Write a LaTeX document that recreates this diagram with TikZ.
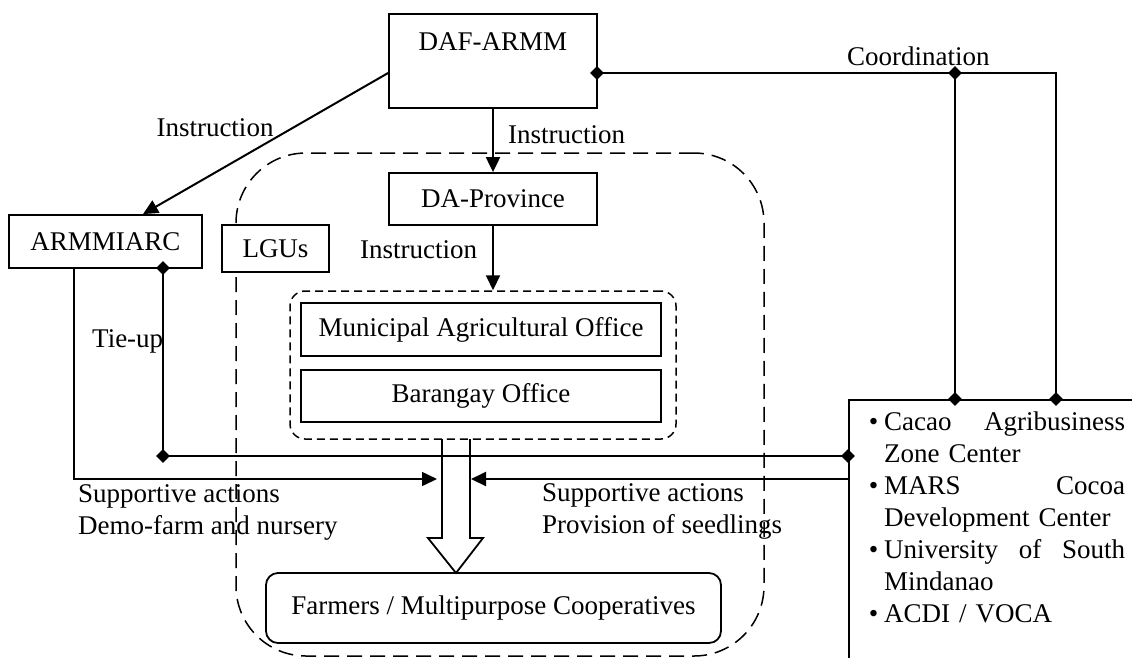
\documentclass[tikz,border=0pt]{standalone}
\usepackage{fontspec}
\setmainfont{Liberation Serif}
\usetikzlibrary{arrows.meta,shapes.geometric}
\newcommand{\orgitem}{\leavevmode\llap{\textbullet\hspace{6pt}}}
\begin{document}
\begin{tikzpicture}[x=1pt,y=-1pt,
  font=\fontsize{27}{32}\selectfont,
  box/.style={draw, line width=1.8pt, inner sep=0pt},
  conn/.style={line width=2pt},
  arr/.style={conn, -{Triangle[length=15pt,width=14pt]}},
  junction/.style={diamond, fill=black, inner sep=0pt, minimum size=14pt},
  zone/.style={draw, line width=1.5pt, dash pattern=on 15pt off 8pt, rounded corners=70pt, inner sep=0pt},
  group/.style={draw, line width=1.5pt, dash pattern=on 8pt off 5pt, rounded corners=15pt, inner sep=0pt},
  lbl/.style={inner sep=0pt}]

\useasboundingbox (0,0) rectangle (1132,657);

% dashed LGU zone and the municipal group inside it
\node[zone, minimum width=528pt, minimum height=503pt] (zone) at (500,404.5) {};
\node[group, minimum width=386pt, minimum height=148pt] (grp) at (483,365) {};

% offices
\node[box, minimum width=208pt, minimum height=94pt, text height=20pt, text depth=42pt] (daf) at (493,61) {DAF-ARMM};
\node[box, minimum width=208pt, minimum height=52pt] (daprov) at (493,199) {DA-Province};
\node[box, minimum width=193pt, minimum height=53pt] (armm) at (105.5,241.5) {ARMMIARC};
\node[box, fill=white, minimum width=107pt, minimum height=47pt] (lgu) at (275.5,248.5) {LGUs};
\node[box, minimum width=360pt, minimum height=53pt] (mao) at (481,329.5) {Municipal Agricultural Office};
\node[box, minimum width=360pt, minimum height=52pt] (brgy) at (481,396) {Barangay Office};
\node[box, rounded corners=12pt, minimum width=455pt, minimum height=70pt] (farm) at (493.5,608) {Farmers / Multipurpose Cooperatives};

% partner organisations (box runs past the page edge)
\node[box, line width=1.5pt, anchor=north west, minimum width=400pt, minimum height=400pt] (org) at (848,399) {};
\node[lbl, anchor=north west, text width=241pt, align=left] (orglist) at (884,411.6) {%
\orgitem Cacao\hfill Agribusiness\\
Zone Center\\
\orgitem MARS\hfill Cocoa\\
Development Center\\
\orgitem University\hfill of\hfill South\\
Mindanao\\
\orgitem ACDI / VOCA};

% instruction lines
\draw[arr] (daf) -- (daprov);
\draw[arr] ([yshift=-12pt]daf.west) -- ([xshift=37.5pt]armm.north);
\draw[arr] (daprov) -- (daprov |- grp.north);

% coordination
\node[junction] (dA) at (597,73) {};
\node[junction] (dB) at (955,73) {};
\node[junction] (dC) at (955,399) {};
\node[junction] (dD) at (1056,399) {};
\coordinate (cc) at (1056,73);
\draw[conn] (dA.center) -- (dB.center) -- (cc) -- (dD.center);
\draw[conn] (dB.center) -- (dC.center);

% tie-up
\node[junction] (dE) at (163,268) {};
\node[junction] (dF) at (163,456) {};
\node[junction] (dG) at (848,456) {};
\draw[conn] (dE.center) -- (dF.center) -- (dG.center);

% hollow flow arrow down to the farmers
\draw[line width=1.8pt] (442,439) -- (442,538) -- (428,538) -- (456,573) -- (483,538) -- (470,538) -- (470,439);

% supportive actions
\coordinate (inL) at (437,479);
\coordinate (inR) at (471,479);
\draw[arr, line width=1.5pt] ([xshift=-31.5pt]armm.south) |- (inL);
\draw[arr] (org.west |- inR) -- (inR);

% labels
\node[lbl, anchor=base] (i1) at (215,136) {Instruction};
\node[lbl, anchor=base west] (i2) at (508,143) {Instruction};
\node[lbl, anchor=base west] (i3) at (360,258) {Instruction};
\node[lbl, anchor=base west] (coord) at (847,65) {Coordination};
\node[lbl, anchor=base west] (tie) at (92,347) {Tie-up};
\node[lbl, anchor=north west, align=left] (supL) at (78,484.6) {Supportive actions\\Demo-farm and nursery};
\node[lbl, anchor=north west, align=left] (supR) at (542,483.6) {Supportive actions\\Provision of seedlings};
\end{tikzpicture}
\end{document}
